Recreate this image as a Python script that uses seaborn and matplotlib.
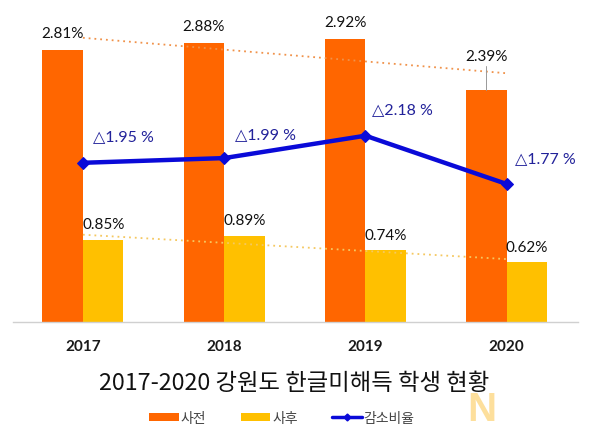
import numpy as np
import pandas as pd
import matplotlib
matplotlib.use("Agg")
import matplotlib.pyplot as plt
from matplotlib.patches import Patch
from matplotlib.lines import Line2D
import seaborn as sns

years = ["2017", "2018", "2019", "2020"]
before = [2.81, 2.88, 2.92, 2.39]      # 사전
after = [0.85, 0.89, 0.74, 0.62]       # 사후
reduction = [1.95, 1.99, 2.18, 1.77]   # 감소비율
series_names = ["사전", "사후", "감소비율"]
title = "2017-2020 강원도 한글미해득 학생 현황"

ORANGE = "#FF6600"
YELLOW = "#FFC000"
BLUE = "#0A0AD8"
NAVY = "#22229A"

sns.set_theme(style="white")
plt.rcParams['font.family'] = ['Noto Sans CJK KR', 'DejaVu Sans']

df = pd.DataFrame({
    "year": years * 2,
    "value": before + after,
    "series": [series_names[0]] * 4 + [series_names[1]] * 4,
})

fig = plt.figure(figsize=(5.93, 4.35), dpi=100)
ax = fig.add_axes([13 / 593, 1 - 323 / 435, (578 - 13) / 593, (323 - 10) / 435])

sns.barplot(data=df, x="year", y="value", hue="series",
            palette=[ORANGE, YELLOW], width=0.574, gap=0, ax=ax,
            legend=False, saturation=1, edgecolor="none")

pos = np.arange(len(years))
ax.set_xlim(-0.495, 3.505)
ax.set_ylim(0, 313 / 96.9)
ax.set_yticks([])
ax.set_xlabel("")
ax.set_ylabel("")
for s in ["top", "right", "left"]:
    ax.spines[s].set_visible(False)
ax.spines["bottom"].set_color("#D0D0D0")
ax.spines["bottom"].set_linewidth(1.0)
ax.tick_params(axis="x", length=0, pad=12)
ax.set_xticks(pos, years, fontweight="bold", fontsize=11,
              family="Lato", color="#1a1a1a")

off = 0.1435

# trend lines
for vals, col in [(before, "#F0924A"), (after, "#F5C860")]:
    k, b = np.polyfit(pos, vals, 1)
    ax.plot(pos[[0, -1]], k * pos[[0, -1]] + b, linestyle=(0, (1, 2.2)),
            color=col, lw=1.3, zorder=1)

numfont = "Lato"
NUMSIZE = 11
for i, v in enumerate(before):
    dy = 25 if i == 3 else 12
    ax.annotate(f"{v:.2f}%", xy=(pos[i] - off, v), xytext=(0, dy),
                textcoords="offset points", ha="center", va="center",
                fontsize=NUMSIZE, family=numfont, color="#111111")
    if i == 3:
        ax.plot([pos[i] - off, pos[i] - off], [v, v + 24 / 96.9],
                color="#999999", lw=0.7, zorder=1)
for i, v in enumerate(after):
    ax.annotate(f"{v:.2f}%", xy=(pos[i] + off, v), xytext=(0, 11),
                textcoords="offset points", ha="center", va="center",
                fontsize=NUMSIZE, family=numfont, color="#111111")

# secondary axis for reduction ratio
ax2 = ax.twinx()
lo = 2.18 - (323 - 136.7) / 117.8
hi = 2.18 + (136.7 - 10) / 117.8
line_df = pd.DataFrame({"pos": pos, "reduction": reduction})
sns.lineplot(data=line_df, x="pos", y="reduction", ax=ax2, color=BLUE,
             lw=3.2, marker="D", markersize=6.5, markeredgecolor=BLUE,
             zorder=5)
ax2.set_ylim(lo, hi)
ax2.set_xlim(ax.get_xlim())
ax2.set_yticks([])
ax2.set_ylabel("")
ax2.set_xlabel("")
for s in ["top", "right", "left", "bottom"]:
    ax2.spines[s].set_visible(False)

label_dx = [0.07, 0.08, 0.045, 0.06]
label_dy = [19, 17, 19, 19]
for i, v in enumerate(reduction):
    ax2.annotate(f"\u25b3{v:.2f} %", xy=(pos[i] + label_dx[i], v),
                 xytext=(0, label_dy[i]), textcoords="offset points",
                 ha="left", va="center", fontsize=11.5,
                 family=["Lato", "DejaVu Sans"], color=NAVY)

fig.text(294 / 593, 1 - 384 / 435, title, ha="center", va="center",
         fontsize=16.8, color="#111111", family="Noto Sans CJK KR")

handles = [Patch(facecolor=ORANGE, edgecolor="none"),
           Patch(facecolor=YELLOW, edgecolor="none"),
           Line2D([0], [0], color=BLUE, lw=2.5, marker="D", markersize=3.5)]
leg = fig.legend(handles, series_names, loc="center",
                 bbox_to_anchor=(282 / 593, 1 - 419 / 435), ncol=3,
                 frameon=False, fontsize=10, handlelength=2.1,
                 handleheight=0.55, handletextpad=0.15, columnspacing=2.5)
for t in leg.get_texts():
    t.set_color("#444444")

fig.text(481.5 / 593, 1 - 410 / 435, "N", ha="center", va="center",
         fontsize=29, fontweight="bold", color="#FDDF9C",
         family="Liberation Sans")

fig.savefig("out.png", dpi=100)
